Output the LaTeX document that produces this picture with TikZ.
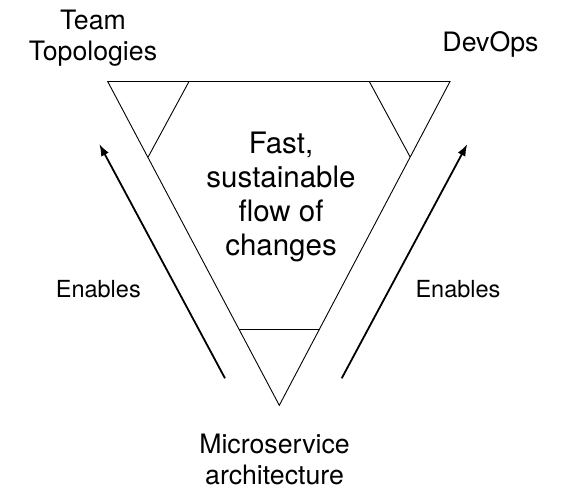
\documentclass[tikz,border=0pt]{standalone}
\usepackage{fontspec}
\setmainfont{TeX Gyre Heros}
\usetikzlibrary{arrows.meta}
\begin{document}
\begin{tikzpicture}[x=1pt,y=-1pt,
  edge/.style={line width=0.9pt, line join=miter},
  enable/.style={line width=1.8pt, -{Latex[length=12pt,width=8.5pt]}},
  lbl/.style={inner sep=0pt, align=center, font=\fontsize{26.7}{31}\selectfont},
  big/.style={inner sep=0pt, align=center, font=\fontsize{29.5}{34}\selectfont},
  small/.style={inner sep=0pt, font=\fontsize{23.5}{28}\selectfont}]
\path[use as bounding box] (0,0) rectangle (585,499);
% triangle vertices
\coordinate (tl) at (107.7,81.5);
\coordinate (tr) at (450,81.5);
\coordinate (bt) at (279.3,405.3);
% corner cut points
\coordinate (l1) at (189,81.5);
\coordinate (l2) at (148.3,156.7);
\coordinate (r1) at (369.3,81.5);
\coordinate (r2) at (410,156.7);
\coordinate (b1) at (239.3,329.3);
\coordinate (b2) at (319.3,329.3);
\draw[edge] (tl) -- (tr) -- (bt) -- cycle;
\draw[edge] (l1) -- (l2);
\draw[edge] (r1) -- (r2);
\draw[edge] (b1) -- (b2);
% arrows
\coordinate (la0) at (225,378.3);
\coordinate (la1) at (99.3,144);
\coordinate (ra0) at (341.7,378.3);
\coordinate (ra1) at (467.3,144);
\draw[enable] (la0) -- (la1);
\draw[enable] (ra0) -- (ra1);
% labels
\node[big] (center) at (281,196.5) {Fast,\\sustainable\\flow of\\changes};
\node[lbl] (team) at (93,38) {Team\\Topologies};
\node[lbl, anchor=base] (devops) at (490.5,51.7) {DevOps};
\node[lbl] (micro) at (274.5,459) {Microservice\\architecture};
\node[small, anchor=base] (enl) at (98.3,297.5) {Enables};
\node[small, anchor=base] (enr) at (458,297.5) {Enables};
\end{tikzpicture}
\end{document}
